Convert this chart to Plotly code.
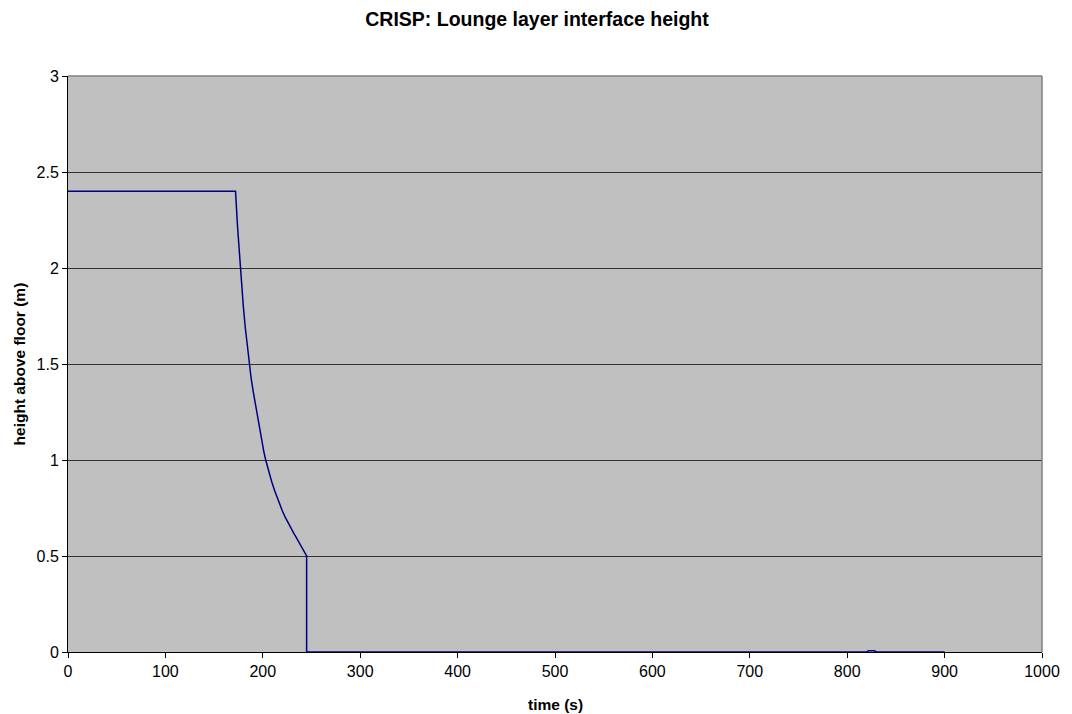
import plotly.graph_objects as go

# Data
time_s = [0, 172, 174, 176, 177, 178, 180, 182, 184, 186, 188, 190, 192, 195, 198, 201, 203,
          206, 209, 212, 215, 217, 220, 223, 226, 229, 232, 234, 236, 239, 242, 245,
          245, 820, 822, 828, 830, 900]
height_m = [2.4, 2.4, 2.22, 2.07, 2.0, 1.93, 1.80, 1.69, 1.59, 1.50, 1.427, 1.361, 1.30, 1.21, 1.123, 1.045, 1.00,
            0.941, 0.889, 0.842, 0.80, 0.774, 0.736, 0.702, 0.671, 0.643, 0.617, 0.60, 0.582, 0.553, 0.526, 0.5,
            0.0, 0.0, 0.006, 0.006, 0.0, 0.0]

x_ticks = [0, 100, 200, 300, 400, 500, 600, 700, 800, 900, 1000]
y_ticks = [0, 0.5, 1, 1.5, 2, 2.5, 3]

title_text = "CRISP: Lounge layer interface height"
x_title = "time (s)"
y_title = "height above floor (m)"

FONT = "Liberation Sans, Arial, sans-serif"

FIG_W, FIG_H = 1064, 706  # page body has an 8px margin

fig = go.Figure()
fig.add_trace(go.Scatter(
    x=time_s, y=height_m, mode="lines",
    line=dict(color="#000080", width=1.5),
    showlegend=False, hoverinfo="x+y",
))

fig.update_layout(
    width=FIG_W, height=FIG_H,
    margin=dict(l=60, r=21, t=68, b=62),
    paper_bgcolor="white",
    plot_bgcolor="#C0C0C0",
    font=dict(family=FONT, size=16, color="black"),
    title=dict(text="<b>" + title_text + "</b>", x=529 / FIG_W, xref="container",
               y=1 - 11 / FIG_H, yref="container", yanchor="middle", xanchor="center",
               font=dict(family=FONT, size=19.5, color="black")),
    xaxis=dict(range=[0, 1000], tickvals=x_ticks, ticks="outside", ticklen=5,
               tickcolor="black", showline=True, linecolor="black", linewidth=1,
               showgrid=False, zeroline=False, fixedrange=True),
    yaxis=dict(range=[0, 3], tickvals=y_ticks, ticks="outside", ticklen=5,
               tickcolor="black", showline=True, linecolor="black", linewidth=1,
               showgrid=True, gridcolor="#333333", gridwidth=1,
               zeroline=False, fixedrange=True),
    annotations=[
        dict(text="<b>" + x_title + "</b>", xref="paper", yref="paper",
             x=0.5, y=(644 - 696) / 576, xanchor="center", yanchor="middle",
             showarrow=False, font=dict(family=FONT, size=15.5, color="black")),
        dict(text="<b>" + y_title + "</b>", xref="paper", yref="paper",
             x=(11 - 60) / 983, y=0.5, xanchor="center", yanchor="middle",
             textangle=-90, showarrow=False,
             font=dict(family=FONT, size=15.5, color="black")),
    ],
    shapes=[
        dict(type="line", xref="paper", yref="paper", x0=0, x1=1, y0=1, y1=1,
             line=dict(color="#808080", width=1.5), layer="above"),
        dict(type="line", xref="paper", yref="paper", x0=1, x1=1, y0=0, y1=1,
             line=dict(color="#808080", width=1.5), layer="above"),
    ],
)

fig.write_html("out.html")
